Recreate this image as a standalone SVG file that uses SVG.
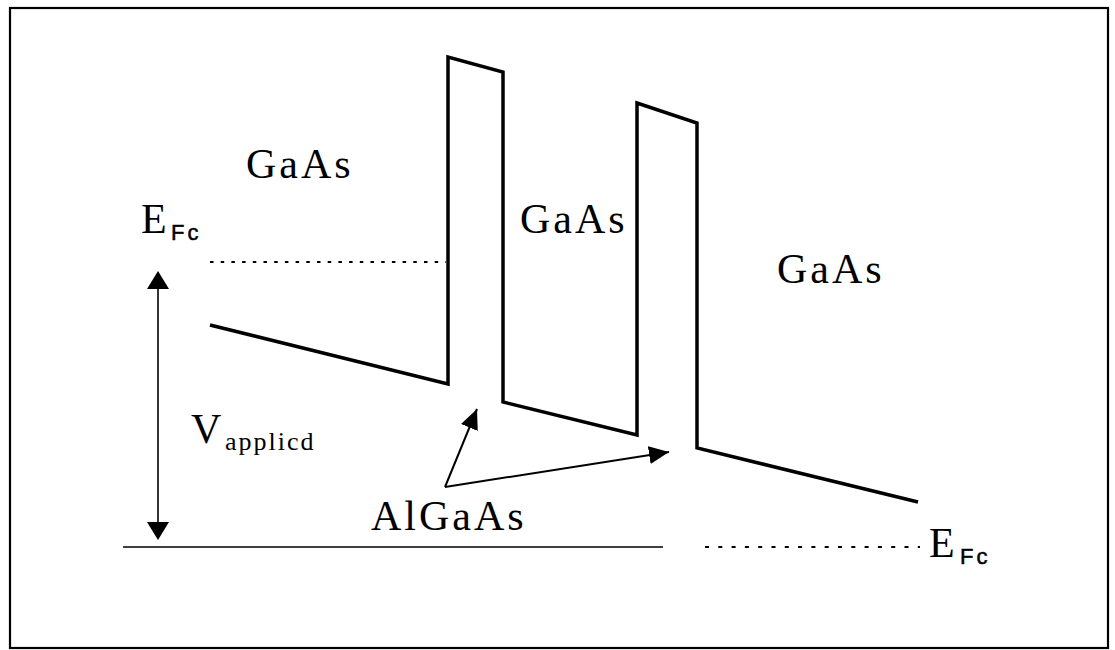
<svg xmlns="http://www.w3.org/2000/svg" width="1115" height="650" viewBox="0 0 1115 650">
<style>
.lbl{font-family:"Liberation Serif","Times New Roman",serif;font-size:42px;letter-spacing:3px;fill:#000}
.sub{font-family:"Liberation Serif","Times New Roman",serif;font-size:26px;letter-spacing:2px;fill:#000}
.subs{font-family:"Liberation Sans",Arial,sans-serif;font-size:22px;letter-spacing:3px;fill:#000;stroke:#000;stroke-width:0.5}
.band{fill:none;stroke:#000;stroke-width:3.5;stroke-linejoin:miter}
.thin{fill:none;stroke:#000;stroke-width:1.6}
.arr{fill:none;stroke:#000;stroke-width:2}
.dot{fill:none;stroke:#000;stroke-width:2.2}
</style>
<defs>
<marker id="ah" markerUnits="userSpaceOnUse" markerWidth="22" markerHeight="20" refX="20" refY="9" orient="auto">
<polygon points="0,0 20,9 0,18" fill="#000"/>
</marker>
</defs>
<rect x="0" y="0" width="1115" height="650" fill="#fff"/>
<rect id="frame" x="10" y="8" width="1098" height="640" fill="none" stroke="#000" stroke-width="2.2"/>
<g id="band-diagram">
<path class="band" d="M210,325 L448,384 L448,57 L503,72 L503,402 L637,435 L637,103 L697,123 L697,448 L918,502"/>
</g>
<g id="connectors">
<line class="dot" x1="210" y1="262" x2="446" y2="262" stroke-dasharray="3.5 7.2"/>
<line class="dot" x1="705" y1="547" x2="920" y2="547" stroke-dasharray="4 9.3"/>
<line class="thin" x1="123" y1="547" x2="663" y2="547" stroke-width="2.4"/>
<line class="thin" x1="158" y1="285" x2="158" y2="526"/>
<polygon points="158,271 147,289 169,289" fill="#000"/>
<polygon points="158,540 147,522 169,522" fill="#000"/>
<line class="arr" x1="445" y1="487" x2="477" y2="409" marker-end="url(#ah)"/>
<line class="arr" x1="445" y1="487" x2="669" y2="452" marker-end="url(#ah)"/>
</g>
<g id="label-gaas-left"><text class="lbl" x="246" y="178">GaAs</text></g>
<g id="label-gaas-mid"><text class="lbl" x="520" y="233">GaAs</text></g>
<g id="label-gaas-right"><text class="lbl" x="777" y="283">GaAs</text></g>
<g id="label-efc-top"><text class="lbl" x="141" y="233">E</text><text class="subs" x="171" y="240">Fc</text></g>
<g id="label-efc-bottom"><text class="lbl" x="929" y="557">E</text><text class="subs" x="960" y="564">Fc</text></g>
<g id="label-vapplied"><text class="lbl" x="191" y="443">V</text><text class="sub" x="225" y="450">applicd</text></g>
<g id="label-algaas"><text class="lbl" x="371" y="530">AlGaAs</text></g>
</svg>
